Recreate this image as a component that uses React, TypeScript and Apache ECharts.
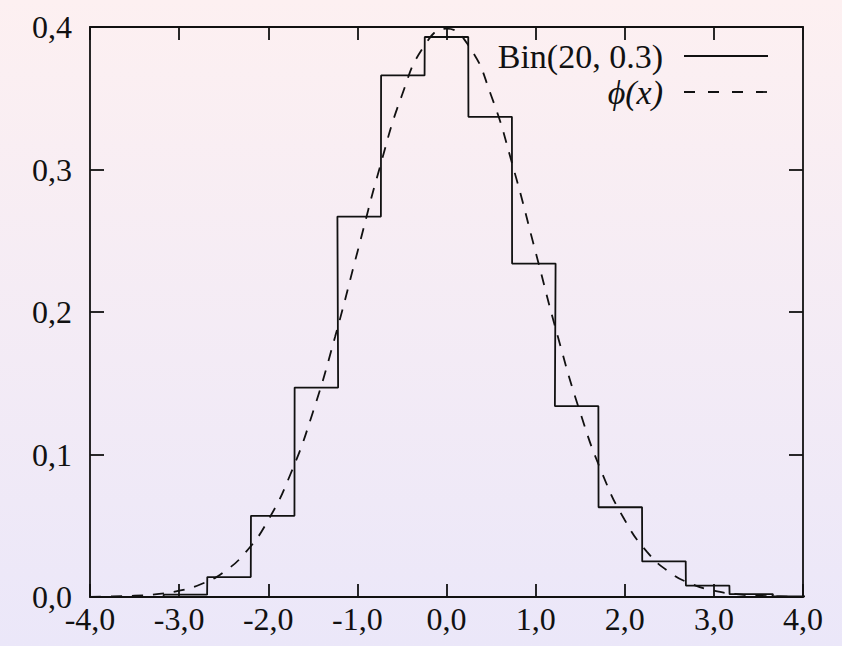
import React, { useEffect, useRef } from "react";
import * as echarts from "echarts";

// Standardized Bin(20, 0.3) histogram (bin centers and heights)
const binCenters = [-2.93, -2.44, -1.95, -1.46, -0.98, -0.49, 0.0, 0.49, 0.98, 1.46, 1.95, 2.44, 2.93, 3.42, 3.9];
const binHeights = [0.0016, 0.014, 0.057, 0.147, 0.267, 0.366, 0.393, 0.337, 0.234, 0.134, 0.063, 0.025, 0.008, 0.002, 0.0005];
const binWidth = 0.488;

// Dashed curve phi(x), read at x steps of 0.25
const curveX = [-4, -3.75, -3.5, -3.25, -3, -2.75, -2.5, -2.25, -2, -1.75, -1.5, -1.25, -1, -0.75, -0.5, -0.25, 0,
  0.25, 0.5, 0.75, 1, 1.25, 1.5, 1.75, 2, 2.25, 2.5, 2.75, 3, 3.25, 3.5, 3.75, 4];
const curveY = [0.0001, 0.0004, 0.0009, 0.002, 0.0044, 0.0091, 0.0175, 0.0317, 0.054, 0.0863, 0.1295, 0.1826, 0.242, 0.3011, 0.3521, 0.3867, 0.3989,
  0.3867, 0.3521, 0.3011, 0.242, 0.1826, 0.1295, 0.0863, 0.054, 0.0317, 0.0175, 0.0091, 0.0044, 0.002, 0.0009, 0.0004, 0.0001];

const xTicks = { min: -4, max: 4, interval: 1 };
const yTicks = { min: 0, max: 0.4, interval: 0.1 };

const legendLabels = ["Bin(20, 0.3)", "ϕ(x)"];

const FONT = "'Liberation Serif', 'DejaVu Serif', serif";
const INK = "#111";

export default function App() {
  const ref = useRef<HTMLDivElement>(null);
  useEffect(() => {
    if (!ref.current) return;
    const chart = echarts.init(ref.current, undefined, { renderer: "svg" });

    const stepPts: number[][] = [[xTicks.min, 0], [binCenters[0] - binWidth / 2, 0]];
    binCenters.forEach((c, i) => {
      stepPts.push([c - binWidth / 2, binHeights[i]]);
      stepPts.push([c + binWidth / 2, binHeights[i]]);
    });
    const curvePts = curveX.map((x, i) => [x, curveY[i]]);

    const fmt = (v: number) => v.toFixed(1).replace(".", ",");
    const lineW = 1.8;

    const grid = { left: 90, right: 39, top: 27, bottom: 49 };
    const plotRight = 842 - grid.right;

    chart.setOption({
      animation: false,
      backgroundColor: {
        type: "linear", x: 0, y: 0, x2: 0, y2: 1,
        colorStops: [
          { offset: 0, color: "#fdf0f1" },
          { offset: 1, color: "#ebe7f9" },
        ],
      },
      grid,
      xAxis: [
        {
          type: "value", ...xTicks, position: "bottom",
          axisLine: { onZero: false, lineStyle: { color: INK, width: lineW } },
          axisTick: { inside: true, length: 13, lineStyle: { color: INK, width: lineW } },
          axisLabel: { formatter: fmt, fontFamily: FONT, fontSize: 32, color: INK, margin: 6 },
          splitLine: { show: false },
        },
        {
          type: "value", ...xTicks, position: "top",
          axisLine: { onZero: false, lineStyle: { color: INK, width: lineW } },
          axisTick: { inside: true, length: 13, lineStyle: { color: INK, width: lineW } },
          axisLabel: { show: false },
          splitLine: { show: false },
        },
      ],
      yAxis: [
        {
          type: "value", ...yTicks, position: "left",
          axisLine: { show: true, onZero: false, lineStyle: { color: INK, width: lineW } },
          axisTick: { show: true, inside: true, length: 14, lineStyle: { color: INK, width: lineW } },
          axisLabel: { formatter: fmt, fontFamily: FONT, fontSize: 32, color: INK, margin: 18, padding: [0, 0, 8, 0] },
          splitLine: { show: false },
        },
        {
          type: "value", ...yTicks, position: "right",
          axisLine: { show: true, onZero: false, lineStyle: { color: INK, width: lineW } },
          axisTick: { show: true, inside: true, length: 14, lineStyle: { color: INK, width: lineW } },
          axisLabel: { show: false },
          splitLine: { show: false },
        },
      ],
      series: [
        {
          name: legendLabels[0], type: "line", data: stepPts, showSymbol: false, symbol: "none",
          lineStyle: { color: INK, width: lineW }, clip: true, z: 3,
        },
        {
          name: legendLabels[1], type: "line", data: curvePts, showSymbol: false, symbol: "none",
          smooth: 0.5,
          lineStyle: { color: INK, width: lineW, type: [11, 10] }, clip: true, z: 2,
        },
      ],
      graphic: [
        {
          type: "text", x: 663, y: 56,
          style: { text: legendLabels[0], font: `34px ${FONT}`, fill: INK, align: "right", verticalAlign: "middle" },
        },
        {
          type: "line", shape: { x1: 684, y1: 56, x2: plotRight - 35, y2: 56 },
          style: { stroke: INK, lineWidth: lineW },
        },
        {
          type: "text", x: 663, y: 92,
          style: { text: legendLabels[1], font: `italic 34px ${FONT}`, fill: INK, align: "right", verticalAlign: "middle" },
        },
        {
          type: "line", shape: { x1: 684, y1: 92, x2: plotRight - 35, y2: 92 },
          style: { stroke: INK, lineWidth: lineW, lineDash: [11, 13] },
        },
      ],
    });
    return () => chart.dispose();
  }, []);
  return <div ref={ref} style={{ position: "fixed", left: 0, top: 0, width: 842, height: 646 }} />;
}
